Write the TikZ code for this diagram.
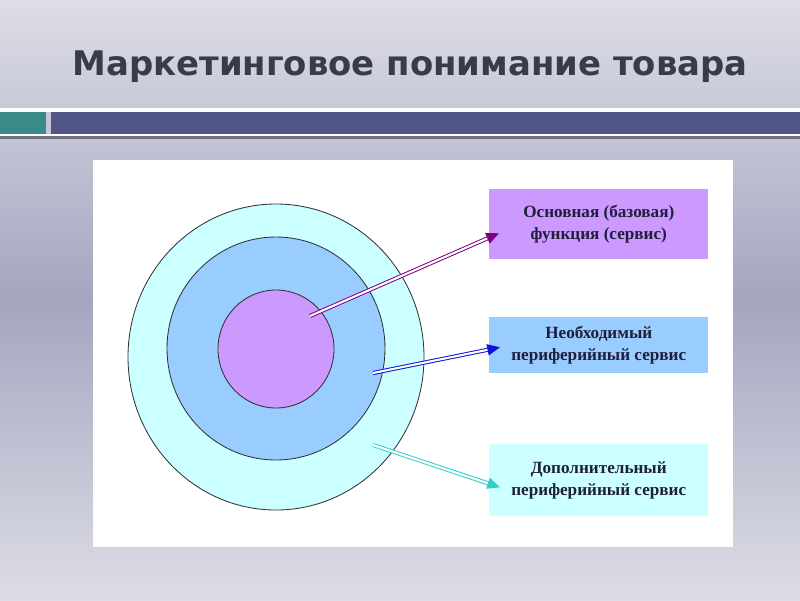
\documentclass[tikz,border=0pt]{standalone}
\usepackage{fontspec}
\setmainfont{Liberation Serif}
\newfontfamily\titlefont{DejaVu Sans}
\usetikzlibrary{arrows.meta}

\definecolor{bgtop}{HTML}{DCDDE5}
\definecolor{bgmid}{HTML}{A4A6C0}
\definecolor{titlegray}{HTML}{3A3B4A}
\definecolor{barblue}{HTML}{515587}
\definecolor{barteal}{HTML}{3A8A8A}
\definecolor{linegray}{HTML}{6F717F}
\definecolor{corecol}{HTML}{CC99FF}
\definecolor{needcol}{HTML}{99CCFF}
\definecolor{extracol}{HTML}{CCFFFF}
\definecolor{textnavy}{HTML}{1F1F3A}
\definecolor{arrpurple}{HTML}{800080}
\definecolor{arrblue}{HTML}{1010E0}
\definecolor{arrteal}{HTML}{33CCCC}

\tikzset{
  levelbox/.style={rectangle, minimum width=219*0.025cm, font=\bfseries\fontsize{12.2}{15.6}\selectfont,
                   text=textnavy, align=center, inner sep=0pt},
  ring/.style={draw=black!80, line width=0.6pt},
  pointer/.style={line width=0.7pt, double=white, double distance=1.5pt,
                  -{Triangle[length=9pt,width=8pt]}}
}

\begin{document}
\begin{tikzpicture}[x=0.025cm, y=-0.025cm]
% slide background
\shade[top color=bgtop, bottom color=bgtop, middle color=bgmid] (0,0) rectangle (800,600);
\useasboundingbox (0,0) rectangle (800,600);

\node[font=\titlefont\bfseries\fontsize{24.1}{29}\selectfont, text=titlegray] (title) at (410,67)
  {Маркетинговое понимание товара};

% header bars
\fill[white] (0,108) rectangle (800,111.5);
\fill[barteal] (0,112) rectangle (46,134);
\fill[barblue] (51,112) rectangle (800,133.5);
\fill[white] (0,134) rectangle (800,136);
\fill[linegray] (0,136) rectangle (800,139);

% white panel
\fill[white] (93,160) rectangle (733,547);

% rings of the product
\draw[ring, fill=extracol] (276,357) ellipse [x radius=148, y radius=153];
\draw[ring, fill=needcol] (276,348.5) ellipse [x radius=109, y radius=111.5];
\draw[ring, fill=corecol] (276,349) ellipse [x radius=58, y radius=59];

\coordinate (core) at (310,316);
\coordinate (need) at (373,373);
\coordinate (extra) at (373,445);

% level boxes
\node[levelbox, fill=corecol, minimum height=70*0.025cm, anchor=north west] (basic) at (489,189)
  {Основная (базовая)\\функция (сервис)};
\node[levelbox, fill=needcol, minimum height=56*0.025cm, anchor=north west] (needed) at (489,317)
  {Необходимый\\периферийный сервис};
\node[levelbox, fill=extracol, minimum height=72*0.025cm, anchor=north west] (added) at (489,444)
  {Дополнительный\\периферийный сервис};

% arrows
\draw[pointer, arrpurple] (core) -- ([xshift=10*0.025cm, yshift=-9*0.025cm]basic.west);
\draw[pointer, arrblue] (need) -- ([xshift=11*0.025cm, yshift=-2*0.025cm]needed.west);
\draw[pointer, arrteal] (extra) -- ([xshift=11*0.025cm, yshift=-7*0.025cm]added.west);
\end{tikzpicture}
\end{document}
